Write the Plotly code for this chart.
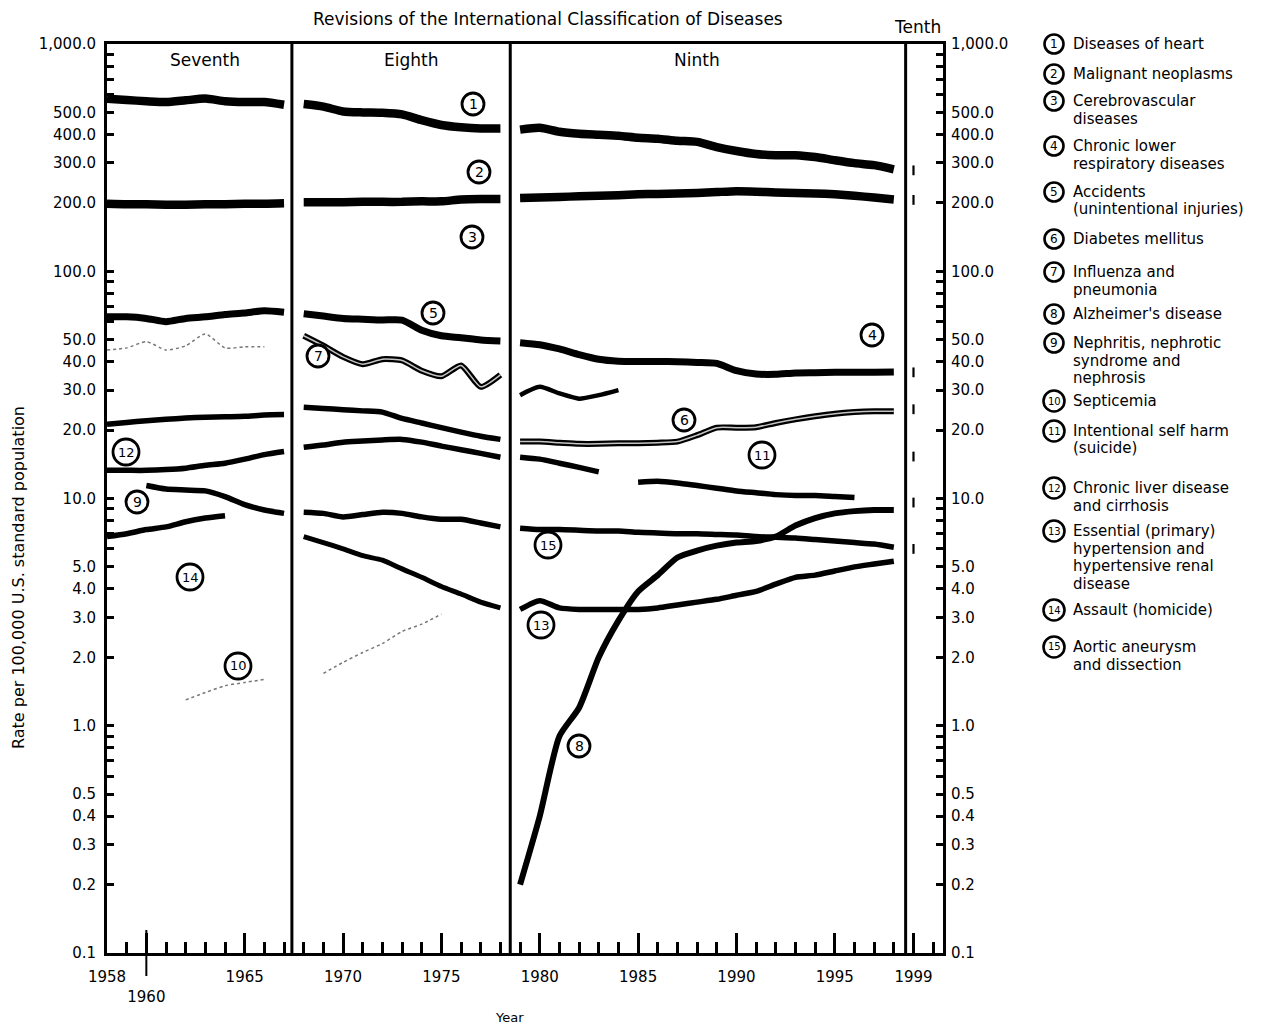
import plotly.graph_objects as go

# ---------------- data (age-adjusted death rates) ----------------
YEARS_7 = list(range(1958, 1968))   # Seventh revision
YEARS_8 = list(range(1968, 1979))   # Eighth revision
YEARS_9 = list(range(1979, 1999))   # Ninth revision
YEAR_10 = 1999                      # Tenth revision
REVISION_BOUNDARIES = [1967.4, 1978.5, 1998.6]
REVISION_NAMES = ["Seventh", "Eighth", "Ninth", "Tenth"]

heart_7 = [575, 567, 560, 555, 565, 575, 560, 555, 555, 540]
heart_8 = [544, 530, 505, 500, 498, 490, 462, 440, 430, 425, 425]
heart_9 = [420, 428, 411, 403, 399, 395, 387, 383, 375, 371, 352, 338, 328, 324, 324, 318, 308, 299, 293, 281]

cancer_7 = [198, 197, 197, 196, 196, 197, 197, 198, 198, 199]
cancer_8 = [201, 201, 201, 202, 202, 202, 203, 203, 207, 208, 208]
cancer_9 = [210, 211, 212, 214, 215, 216, 218, 219, 220, 221, 223, 225, 224, 222, 221, 220, 218, 215, 211, 207]

accidents_7 = [63, 63, 62, 60, 62, 63, 64.5, 65.5, 67, 66]
accidents_8 = [65, 63.5, 62, 61.5, 61, 61, 55, 52, 51, 49.8, 49.3]
accidents_9 = [48.5, 47.5, 45.5, 43, 41, 40.2, 40.1, 40.1, 40, 39.7, 39.3, 36.5, 35.3, 35.2, 35.7, 35.8, 35.9, 35.9, 35.9, 36.0]

diabetes_7 = [21.2, 21.6, 22.0, 22.3, 22.6, 22.8, 22.9, 23.0, 23.3, 23.4]
diabetes_8 = [25.2, 24.9, 24.6, 24.3, 24.0, 22.5, 21.5, 20.5, 19.6, 18.8, 18.2]
diabetes_9 = [17.8, 17.8, 17.6, 17.4, 17.4, 17.5, 17.5, 17.6, 17.8, 19.0, 20.5, 20.5, 20.6, 21.5, 22.3, 23.0, 23.6, 24.0, 24.2, 24.2]

influenza_7 = [45, 46, 49, 45, 47, 53, 46, 46.5, 46.5, None]
influenza_8 = [52, 47, 42, 39, 41, 40.5, 36.5, 34.5, 38.5, 31, 35]
influenza_9 = [28.5, 31, 29, 27.5, 28.5, 30] + [None] * 14

alzheimer_9 = [0.2, 0.4, 0.9, 1.2, 2.0, 2.9, 3.9, 4.6, 5.5, 5.9, 6.2, 6.4, 6.5, 6.8, 7.6, 8.2, 8.6, 8.8, 8.9, 8.9]

nephritis_7 = [None, None, 11.4, 11.0, 10.9, 10.8, 10.2, 9.4, 8.9, 8.6]

septicemia_7 = [None, None, None, None, 1.3, 1.4, 1.5, 1.55, 1.6, None]
septicemia_8 = [None, 1.7, 1.9, 2.1, 2.3, 2.6, 2.8, 3.1, None, None, None]

suicide_9 = [None] * 6 + [11.8, 11.9, 11.7, 11.4, 11.1, 10.8, 10.6, 10.4, 10.3, 10.3, 10.2, 10.1, None, None]

liver_7 = [13.3, 13.3, 13.3, 13.4, 13.6, 14.0, 14.3, 14.9, 15.6, 16.1]
liver_8 = [16.8, 17.2, 17.7, 17.9, 18.1, 18.2, 17.7, 17.0, 16.4, 15.8, 15.2]
liver_9 = [15.2, 14.9, 14.3, 13.7, 13.1] + [None] * 15

hypertension_8 = [6.8, 6.4, 6.0, 5.6, 5.35, 4.9, 4.5, 4.1, 3.8, 3.5, 3.3]
hypertension_9 = [3.25, 3.55, 3.3, 3.25, 3.25, 3.25, 3.25, 3.3, 3.4, 3.5, 3.6, 3.75, 3.9, 4.2, 4.5, 4.6, 4.8, 5.0, 5.15, 5.3]

aortic_7 = [6.8, 7.0, 7.3, 7.5, 7.9, 8.2, 8.4, None, None, None]
aortic_8 = [8.7, 8.6, 8.3, 8.5, 8.7, 8.6, 8.3, 8.1, 8.1, 7.8, 7.5]
aortic_9 = [7.4, 7.3, 7.3, 7.25, 7.2, 7.2, 7.1, 7.05, 7.0, 7.0, 6.95, 6.9, 6.8, 6.75, 6.7, 6.6, 6.5, 6.4, 6.3, 6.1]

tenth_1999 = [278, 206, 35.9, 24.7, 15.3, 9.6, 6.0]

LEGEND_LABELS = [
    "Diseases of heart",
    "Malignant neoplasms",
    "Cerebrovascular<br>diseases",
    "Chronic lower<br>respiratory diseases",
    "Accidents<br>(unintentional injuries)",
    "Diabetes mellitus",
    "Influenza and<br>pneumonia",
    "Alzheimer's disease",
    "Nephritis, nephrotic<br>syndrome and<br>nephrosis",
    "Septicemia",
    "Intentional self harm<br>(suicide)",
    "Chronic liver disease<br>and cirrhosis",
    "Essential (primary)<br>hypertension and<br>hypertensive renal<br>disease",
    "Assault (homicide)",
    "Aortic aneurysm<br>and dissection",
]

X_TICK_VALUES = [1958, 1960, 1965, 1970, 1975, 1980, 1985, 1990, 1995, 1999]
X_TICK_TEXT = ["1958", "<br>1960", "1965", "1970", "1975", "1980", "1985", "1990", "1995", "1999"]

Y_TICK_VALUES = [0.1, 0.2, 0.3, 0.4, 0.5, 0.6, 0.7, 0.8, 0.9,
                 1, 2, 3, 4, 5, 6, 7, 8, 9,
                 10, 20, 30, 40, 50, 60, 70, 80, 90,
                 100, 200, 300, 400, 500, 600, 700, 800, 900, 1000]
Y_TICK_TEXT = ["0.1", "0.2", "0.3", "0.4", "0.5", "", "", "", "",
               "1.0", "2.0", "3.0", "4.0", "5.0", "", "", "", "",
               "10.0", "20.0", "30.0", "40.0", "50.0", "", "", "", "",
               "100.0", "200.0", "300.0", "400.0", "500.0", "", "", "", "", "1,000.0"]

# ---------------- layout geometry (reference-image pixels) ----------------
OFF = 8                      # page body margin added by the browser
W, H = 1274 - 2 * OFF, 1032 - 2 * OFF
PL, PR, PT, PB = 107, 943, 44, 953
FONT = "DejaVu Sans"


def xp(px):
    return (px - PL) / (PR - PL)


def yp(py):
    return (PB - py) / (PB - PT)


fig = go.Figure()


def add_line(years, vals, width=6, color="black", dash="solid", hollow=False):
    fig.add_trace(go.Scatter(
        x=years, y=vals, mode="lines", connectgaps=False,
        line=dict(color=color, width=width, dash=dash, shape="spline", smoothing=0.6),
        showlegend=False, hoverinfo="skip"))
    if hollow:
        fig.add_trace(go.Scatter(
            x=years, y=vals, mode="lines", connectgaps=False,
            line=dict(color="#c4c4c4", width=max(1.5, width - 4.5), shape="spline", smoothing=0.6),
            showlegend=False, hoverinfo="skip"))


# heart
add_line(YEARS_7, heart_7, 8.5)
add_line(YEARS_8, heart_8, 8.5)
add_line(YEARS_9, heart_9, 8.5)
# cancer
add_line(YEARS_7, cancer_7, 8.5)
add_line(YEARS_8, cancer_8, 8.5)
add_line(YEARS_9, cancer_9, 8.5)
# accidents
add_line(YEARS_7, accidents_7, 7)
add_line(YEARS_8, accidents_8, 7)
add_line(YEARS_9, accidents_9, 7)
# diabetes
add_line(YEARS_7, diabetes_7, 5.5)
add_line(YEARS_8, diabetes_8, 5.5)
add_line(YEARS_9, diabetes_9, 6, hollow=True)
# influenza & pneumonia
add_line(YEARS_7, influenza_7, 1.5, color="#777777", dash="dot")
add_line(YEARS_8, influenza_8, 6, hollow=True)
add_line(YEARS_9, influenza_9, 4.5)
# alzheimer
add_line(YEARS_9, alzheimer_9, 6)
# nephritis
add_line(YEARS_7, nephritis_7, 5.5)
# septicemia
add_line(YEARS_7, septicemia_7, 1.5, color="#777777", dash="dot")
add_line(YEARS_8, septicemia_8, 1.5, color="#777777", dash="dot")
# suicide
add_line(YEARS_9, suicide_9, 5.5)
# liver
add_line(YEARS_7, liver_7, 5.5)
add_line(YEARS_8, liver_8, 5.5)
add_line(YEARS_9, liver_9, 5.5)
# hypertension
add_line(YEARS_8, hypertension_8, 5)
add_line(YEARS_9, hypertension_9, 5.5)
# aortic aneurysm
add_line(YEARS_7, aortic_7, 5.5)
add_line(YEARS_8, aortic_8, 5.5)
add_line(YEARS_9, aortic_9, 5.5)

# tenth revision 1999 values
fig.add_trace(go.Scatter(
    x=[YEAR_10] * len(tenth_1999), y=tenth_1999, mode="markers",
    marker=dict(symbol="line-ns", size=7, line=dict(width=2.2, color="black")),
    showlegend=False, hoverinfo="skip"))

# invisible trace so the right-hand axis is drawn
fig.add_trace(go.Scatter(x=[1958], y=[1], yaxis="y2", mode="lines",
                         opacity=0, showlegend=False, hoverinfo="skip"))

shapes = []
for b in REVISION_BOUNDARIES:
    shapes.append(dict(type="line", xref="x", yref="paper", x0=b, x1=b, y0=0, y1=1,
                       line=dict(color="black", width=3)))
# the long 1960 tick crossing the axis
shapes.append(dict(type="line", xref="x", yref="paper", x0=1960, x1=1960,
                   y0=yp(976), y1=yp(930), line=dict(color="black", width=2)))

annotations = []
tick_font = dict(family=FONT, size=15, color="black")

annotations.append(dict(text="Revisions of the International Classification of Diseases",
                        xref="paper", yref="paper", x=xp(548), y=yp(19), showarrow=False,
                        font=dict(family=FONT, size=17, color="black"), xanchor="center", yanchor="middle"))
for name, (px, py) in zip(REVISION_NAMES, [(205, 60), (411, 60), (697, 60), (917, 27)]):
    annotations.append(dict(text=name, xref="paper", yref="paper", x=xp(px), y=yp(py),
                            showarrow=False, font=dict(family=FONT, size=17, color="black"),
                            xanchor="center", yanchor="middle"))
annotations.append(dict(text="Rate per 100,000 U.S. standard population", xref="paper", yref="paper",
                        x=xp(18), y=yp(578), textangle=-90, showarrow=False,
                        font=dict(family=FONT, size=16, color="black"),
                        xanchor="center", yanchor="middle"))
annotations.append(dict(text="Year", xref="paper", yref="paper", x=xp(509), y=yp(1017),
                        showarrow=False, font=dict(family=FONT, size=13, color="black"),
                        xanchor="center", yanchor="middle"))

# circled series numbers inside the plot
INPLOT_POS = [(473, 104), (479, 172), (472, 237), (872, 335), (433, 313), (684, 420), (318, 356),
              (579, 746), (137, 502), (238, 666), (762, 455), (126, 452), (541, 625), (190, 577),
              (548, 545)]
for i, (px, py) in enumerate(INPLOT_POS):
    n = i + 1
    r = 11 if n < 10 else 13
    shapes.append(dict(type="circle", xref="paper", yref="paper", xsizemode="pixel", ysizemode="pixel",
                       xanchor=xp(px), yanchor=yp(py), x0=-r, x1=r, y0=-r, y1=r,
                       line=dict(color="black", width=2.8), fillcolor="white"))
    annotations.append(dict(text=str(n), xref="paper", yref="paper", x=xp(px), y=yp(py),
                            showarrow=False, font=dict(family=FONT, size=14 if n < 10 else 13, color="black"),
                            xanchor="center", yanchor="middle"))

# legend on the right
LEGEND_Y = [44, 74, 101, 146, 192, 239, 272, 314, 343, 401, 431, 488, 531, 610, 647]
LINE_STEP = 17.5
for i, (label, ly) in enumerate(zip(LEGEND_LABELS, LEGEND_Y)):
    n = i + 1
    r = 9.5 if n < 10 else 10.5
    shapes.append(dict(type="circle", xref="paper", yref="paper", xsizemode="pixel", ysizemode="pixel",
                       xanchor=xp(1054), yanchor=yp(ly), x0=-r, x1=r, y0=-r, y1=r,
                       line=dict(color="black", width=2.6), fillcolor="white"))
    annotations.append(dict(text=str(n), xref="paper", yref="paper", x=xp(1054), y=yp(ly),
                            showarrow=False, font=dict(family=FONT, size=12 if n < 10 else 10, color="black"),
                            xanchor="center", yanchor="middle"))
    for j, line in enumerate(label.split("<br>")):
        annotations.append(dict(text=line, xref="paper", yref="paper", x=xp(1072), y=yp(ly + j * LINE_STEP),
                                showarrow=False, borderpad=0,
                                font=dict(family=FONT, size=15, color="black"),
                                xanchor="left", yanchor="middle"))

yaxis_common = dict(
    type="log", range=[-1, 3], tickmode="array", tickvals=Y_TICK_VALUES, ticktext=Y_TICK_TEXT,
    ticks="inside", ticklen=7, tickwidth=2.5, tickcolor="black",
    showgrid=False, zeroline=False, tickfont=tick_font,
)

fig.update_layout(
    width=W, height=H, autosize=False,
    margin=dict(l=PL - OFF, r=W - (PR - OFF), t=PT - OFF, b=H - (PB - OFF), pad=0),
    paper_bgcolor="white", plot_bgcolor="white",
    showlegend=False,
    xaxis=dict(range=[1958, 2000.5], tickmode="array", tickvals=X_TICK_VALUES, ticktext=X_TICK_TEXT,
               tickangle=0,
               ticks="inside", ticklen=20, tickwidth=2.5, tickcolor="black",
               minor=dict(dtick=1, tick0=1958, ticks="inside", ticklen=11, tickwidth=2.5, tickcolor="black"),
               showline=True, linewidth=3, linecolor="black", mirror=True,
               showgrid=False, zeroline=False, tickfont=tick_font, ticklabelstandoff=8),
    yaxis=dict(**yaxis_common, showline=True, linewidth=3, linecolor="black", mirror=True,
               side="left", ticklabelstandoff=5),
    yaxis2=dict(**yaxis_common, overlaying="y", side="right", anchor="x",
                showline=True, linewidth=3, linecolor="black", ticklabelstandoff=2),
    shapes=shapes,
    annotations=annotations,
)

fig.write_html("out.html")
